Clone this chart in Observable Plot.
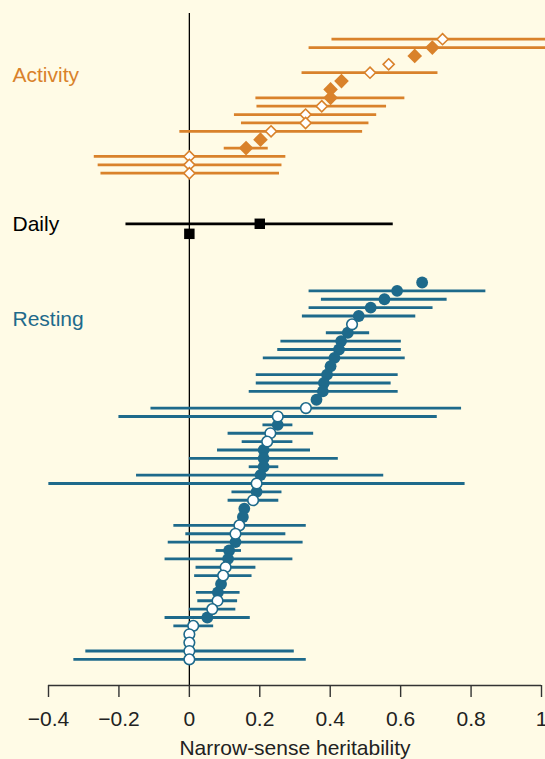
<!DOCTYPE html>
<html>
<head>
<meta charset="utf-8">
<script src="https://cdn.jsdelivr.net/npm/d3@7"></script>
<script src="https://cdn.jsdelivr.net/npm/@observablehq/plot@0.6"></script>
<style>
  html, body { margin: 0; padding: 0; background: #FFFBE6; }
  #chart svg { display: block; }
</style>
</head>
<body>
<div id="chart"></div>
<script>
// ---- Data ----
// Activity (diamonds), top to bottom
const activityH      = [0.719, 0.690, 0.640, 0.566, 0.513, 0.432, 0.401, 0.401, 0.376, 0.330, 0.330, 0.232, 0.202, 0.161, 0, 0, 0];
const activityLo     = [0.405, 0.340, null, null, 0.320, null, null, 0.189, 0.192, 0.128, 0.148, -0.027, null, 0.099, -0.270, -0.259, -0.251];
const activityHi     = [1.100, 1.100, null, null, 0.706, null, null, 0.612, 0.560, 0.532, 0.510, 0.492, null, 0.224, 0.274, 0.263, 0.256];
const activityFilled = [false, true, true, false, false, true, true, true, false, false, false, false, true, true, false, false, false];

// Daily (squares)
const dailyH      = [0.200, 0];
const dailyLo     = [-0.180, null];
const dailyHi     = [0.579, null];
const dailyFilled = [true, true];

// Resting (circles), top to bottom
const restingH = [0.661, 0.590, 0.554, 0.515, 0.481, 0.462, 0.450, 0.431, 0.425, 0.412, 0.401, 0.391, 0.382, 0.379, 0.361,
  0.331, 0.251, 0.251, 0.230, 0.221, 0.211, 0.211, 0.211, 0.202, 0.191, 0.191, 0.181, 0.156, 0.152, 0.142,
  0.131, 0.131, 0.113, 0.110, 0.103, 0.096, 0.090, 0.081, 0.080, 0.065, 0.051, 0.011, 0, 0, 0, 0];
const restingLo = [null, 0.340, 0.375, 0.340, 0.321, null, 0.389, 0.260, 0.251, 0.210, null, 0.190, 0.190, 0.170, null,
  -0.109, -0.200, 0.209, 0.110, 0.150, 0.080, 0.000, 0.170, -0.150, -0.399, 0.121, 0.110, null, null, -0.044,
  -0.010, -0.060, 0.076, -0.069, 0.019, 0.015, null, 0.020, 0.024, 0.000, -0.069, -0.044, null, null, -0.294, -0.328];
const restingHi = [null, 0.842, 0.732, 0.692, 0.643, null, 0.512, 0.602, 0.602, 0.613, null, 0.593, 0.573, 0.593, null,
  0.773, 0.704, 0.294, 0.353, 0.294, 0.344, 0.423, 0.254, 0.552, 0.783, 0.263, 0.254, null, null, 0.332,
  0.274, 0.323, 0.148, 0.294, 0.189, 0.178, null, 0.144, 0.137, 0.132, 0.173, 0.069, null, null, 0.298, 0.332];
const restingFilled = [true, true, true, true, true, false, true, true, true, true, true, true, true, true, true,
  false, false, true, false, false, true, true, true, true, false, true, false, true, true, false,
  false, true, true, true, false, false, true, true, false, false, true, false, false, false, false, false];

const groupNames  = ["Activity", "Daily", "Resting"];
const xTicks      = [-0.4, -0.2, 0, 0.2, 0.4, 0.6, 0.8, 1];
const xLabel      = "Narrow-sense heritability";

// ---- Styling / layout ----
const ORANGE = "#D9822B", BLUE = "#1E6A8B", BLACK = "#000000", BG = "#FFFBE6";
const FONT = "'Liberation Sans', Arial, Helvetica, sans-serif";

function build(group, h, lo, hi, filled, start, step) {
  return h.map((v, i) => ({group, h: v, lo: lo[i], hi: hi[i], filled: filled[i], row: start + i * step}));
}
const rows = [
  ...build("Activity", activityH, activityLo, activityHi, activityFilled, 0, 1),
  ...build("Daily", dailyH, dailyLo, dailyHi, dailyFilled, 22.04, 1.2),
  ...build("Resting", restingH, restingLo, restingHi, restingFilled, 29.05, 1)
];
const withCI = rows.filter(d => d.lo != null);
const colorOf = g => g === "Activity" ? ORANGE : g === "Resting" ? BLUE : BLACK;
const labelRows = [{name: groupNames[0], row: 4.33}, {name: groupNames[1], row: 22.04}, {name: groupNames[2], row: 33.4}];

const yBottom = 77.17, yTop = -4.62;
const fmt = d => d === 0 ? "0" : d === 1 ? "1" : (d < 0 ? "\u2212" : "") + Math.abs(d).toFixed(1);

const plot = Plot.plot({
  width: 545,
  height: 759,
  marginTop: 0,
  marginBottom: 74,
  marginLeft: 48,
  marginRight: 4,
  style: {background: BG, fontFamily: FONT, overflow: "visible"},
  x: {domain: [-0.4, 1]},
  y: {domain: [yTop, yBottom], range: [0, 685], axis: null},
  marks: [
    Plot.ruleX([0], {y1: -3.07, y2: yBottom, stroke: BLACK, strokeWidth: 1.3}),
    Plot.ruleY([yBottom], {x1: -0.4, x2: 1, stroke: "#333", strokeWidth: 1.4}),
    Plot.axisX({ticks: xTicks, tickFormat: fmt, tickSize: 12, tickPadding: 14, fontSize: 21,
      stroke: "#333", strokeWidth: 1.4, fill: "#222", label: null}),
    Plot.text([xLabel], {frameAnchor: "bottom", dy: 69, fontSize: 21, fill: "#222"}),
    Plot.ruleY(withCI, {y: "row", x1: "lo", x2: "hi", stroke: d => colorOf(d.group), strokeWidth: 2.8}),
    // Activity diamonds
    Plot.dot(rows.filter(d => d.group === "Activity" && d.filled), {x: "h", y: "row", symbol: "diamond2", r: 6.6, fill: ORANGE, stroke: "none"}),
    Plot.dot(rows.filter(d => d.group === "Activity" && !d.filled), {x: "h", y: "row", symbol: "diamond2", r: 5, fill: "white", stroke: ORANGE, strokeWidth: 1.6}),
    // Daily squares
    Plot.dot(rows.filter(d => d.group === "Daily"), {x: "h", y: "row", symbol: "square", r: 5.9, fill: BLACK, stroke: "none"}),
    // Resting circles
    Plot.dot(rows.filter(d => d.group === "Resting" && d.filled), {x: "h", y: "row", r: 5.9, fill: BLUE, stroke: "none"}),
    Plot.dot(rows.filter(d => d.group === "Resting" && !d.filled), {x: "h", y: "row", r: 5.3, fill: "white", stroke: BLUE, strokeWidth: 1.6}),
    Plot.text(labelRows, {y: "row", text: "name", frameAnchor: "left", dx: -36, textAnchor: "start",
      fontSize: 21, fill: d => colorOf(d.name)})
  ]
});
document.getElementById("chart").appendChild(plot);
</script>
</body>
</html>
